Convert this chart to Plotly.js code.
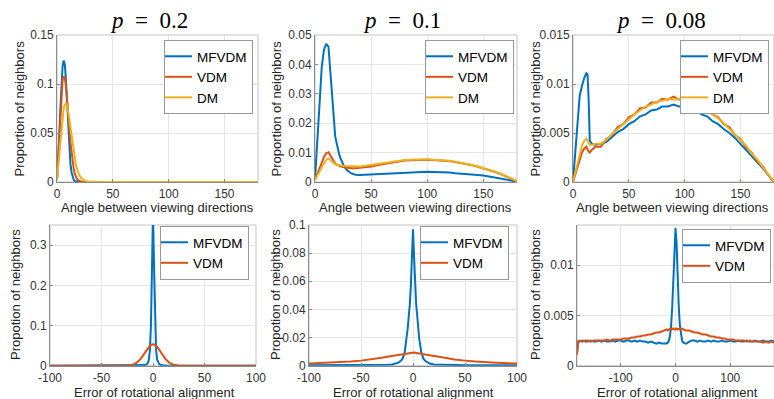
<!DOCTYPE html>
<html>
<head>
<meta charset="utf-8">
<script src="https://cdn.plot.ly/plotly-3.0.1.min.js"></script>
<style>html,body{margin:0;padding:0;background:#fff;}#chart{width:774px;height:399px;}</style>
</head>
<body>
<div id="chart"></div>
<script>
// ---------- DATA ----------
// Panel titles
const panelTitles = ["<i>p</i>\u00a0\u00a0=\u00a0\u00a00.2", "<i>p</i>\u00a0\u00a0=\u00a0\u00a00.1", "<i>p</i>\u00a0\u00a0=\u00a0\u00a00.08"];
const seriesNames = ["MFVDM", "VDM", "DM"];
const xTitleTop = "Angle between viewing directions";
const yTitleTop = "Proportion of neighbors";
const xTitleBottom = "Error of rotational alignment";
const yTitleBottom = "Propotion of neighbors";

// Panel A: p = 0.2, angle between viewing directions
const xA = [0,1,2,3,4,5,6,7,8,9,10,11,12,13,14,15,16,17,18,19,20,22,24,26,28,30,35,40,60,180];
const mfvdmA = [0.002,0.02,0.045,0.075,0.1,0.118,0.124,0.12,0.104,0.08,0.055,0.034,0.019,0.01,0.005,0.002,0.001,0.0004,0.0002,0.0001,0,0,0,0,0,0,0,0,0,0];
const vdmA = [0.002,0.022,0.048,0.072,0.092,0.104,0.108,0.106,0.098,0.086,0.071,0.055,0.041,0.029,0.02,0.013,0.008,0.005,0.003,0.0018,0.001,0.0003,0.0001,0,0,0,0,0,0,0];
const dmA = [0.002,0.012,0.026,0.04,0.054,0.066,0.075,0.079,0.08,0.078,0.073,0.065,0.056,0.047,0.038,0.03,0.023,0.017,0.013,0.0095,0.007,0.0035,0.0017,0.0008,0.0004,0.0002,0,0,0,0];

// Panel B: p = 0.1
const xB = [0,2,4,6,8,10,12,14,16,18,20,22,25,28,32,36,40,45,50,55,60,65,70,75,80,85,90,95,100,105,110,115,120,125,130,135,140,145,150,155,160,165,170,175,180];
const mfvdmB = [0.0008,0.014,0.028,0.039,0.045,0.047,0.046,0.036,0.024,0.0155,0.012,0.0088,0.006,0.0042,0.003,0.0025,0.0024,0.0025,0.0027,0.0028,0.0029,0.003,0.0031,0.0032,0.0033,0.0034,0.0035,0.0035,0.0035,0.0034,0.0034,0.0033,0.0032,0.003,0.0029,0.0027,0.0025,0.0024,0.0022,0.0019,0.0016,0.0012,0.0009,0.0005,0];
const vdmB = [0.0008,0.0025,0.0045,0.0065,0.0085,0.0098,0.0101,0.0088,0.0072,0.0063,0.0058,0.0054,0.0051,0.0049,0.0047,0.0047,0.0048,0.005,0.0053,0.0057,0.006,0.0065,0.0068,0.0071,0.0073,0.0074,0.0075,0.0075,0.0076,0.0075,0.0074,0.0073,0.0071,0.0068,0.0065,0.0061,0.0057,0.0052,0.0047,0.0041,0.0035,0.0028,0.002,0.0011,0.0002];
const dmB = [0.0008,0.002,0.0035,0.005,0.0065,0.0075,0.008,0.0074,0.0066,0.0061,0.0058,0.0056,0.0055,0.0054,0.0053,0.0052,0.0053,0.0055,0.0058,0.0061,0.0064,0.0068,0.0071,0.0073,0.0075,0.0076,0.0077,0.0077,0.0077,0.0076,0.0075,0.0074,0.0072,0.0069,0.0066,0.0062,0.0058,0.0053,0.0048,0.0042,0.0036,0.0029,0.0021,0.0012,0.0002];

// Panel C: p = 0.08
const xC = [0,2,4,6,8,10,12,13,14,15,17,20,25,30,35,40,45,50,55,60,65,70,75,80,85,90,95,100,105,110,115,120,125,130,135,140,145,150,155,160,165,170,175,180];
const mfvdmC = [0,0.0032,0.0062,0.0088,0.0098,0.0106,0.0111,0.011,0.0085,0.0042,0.0039,0.0038,0.0039,0.0041,0.0046,0.0051,0.0054,0.0059,0.0062,0.0067,0.0069,0.0073,0.0074,0.0077,0.0077,0.0079,0.0077,0.0077,0.0074,0.0073,0.0069,0.0067,0.0062,0.0059,0.0054,0.005,0.0045,0.0039,0.0033,0.0027,0.0021,0.0014,0.0007,0];
const vdmC = [0,0.0008,0.0016,0.0024,0.003,0.0034,0.0036,0.0033,0.0031,0.003,0.0033,0.0036,0.0036,0.0044,0.0048,0.0056,0.0059,0.0066,0.0069,0.0075,0.0076,0.0081,0.0081,0.0085,0.0084,0.0087,0.0084,0.0086,0.0081,0.0081,0.0076,0.0075,0.0069,0.0066,0.0059,0.0056,0.0048,0.0044,0.0035,0.003,0.0021,0.0016,0.0007,0];
const dmC = [0,0.001,0.002,0.003,0.0037,0.0042,0.0044,0.0042,0.0039,0.0038,0.0038,0.0039,0.0039,0.0043,0.0049,0.0054,0.006,0.0064,0.0069,0.0073,0.0077,0.0079,0.0082,0.0083,0.0085,0.0084,0.0085,0.0083,0.0082,0.0079,0.0077,0.0073,0.0069,0.0065,0.006,0.0054,0.0049,0.0043,0.0037,0.0029,0.0023,0.0015,0.0008,0];

// Panel D: p = 0.2, error of rotational alignment
const xD = [-100,-60,-40,-30,-25,-20,-16,-12,-10,-8,-6,-5,-4,-3,-2,-1,0,1,2,3,4,5,6,8,10,12,16,20,25,30,40,60,100];
const mfvdmD = [0,0,0,0,0,0,0,0.0002,0.0006,0.0015,0.004,0.007,0.015,0.04,0.1,0.25,0.38,0.25,0.1,0.04,0.015,0.007,0.004,0.0015,0.0006,0.0002,0,0,0,0,0,0,0];
const vdmD = [0,0,0,0.0001,0.0004,0.0023,0.0072,0.017,0.0245,0.032,0.04,0.0437,0.047,0.0495,0.0514,0.0526,0.053,0.0526,0.0514,0.0495,0.047,0.0437,0.04,0.032,0.0245,0.017,0.0072,0.0023,0.0004,0.0001,0,0,0];

// Panel E: p = 0.1
const xE = [-100,-80,-60,-50,-40,-30,-25,-20,-16,-14,-12,-10,-8,-6,-5,-4,-3,-2,-1,0,1,2,3,4,5,6,8,10,12,14,16,20,25,30,40,50,60,80,100];
const mfvdmE = [0.0003,0.0003,0.0004,0.0004,0.0005,0.0006,0.0007,0.0009,0.0015,0.0022,0.0033,0.005,0.0095,0.019,0.027,0.036,0.044,0.058,0.078,0.097,0.078,0.058,0.044,0.036,0.027,0.019,0.0095,0.005,0.0033,0.0022,0.0015,0.0009,0.0007,0.0006,0.0005,0.0004,0.0004,0.0003,0.0003];
const vdmE = [0.0016,0.0021,0.0029,0.0036,0.0044,0.0056,0.0063,0.0069,0.0073,0.0076,0.0079,0.0082,0.0085,0.0088,0.0089,0.009,0.0091,0.0092,0.0093,0.0093,0.0093,0.0092,0.0091,0.009,0.0089,0.0088,0.0085,0.0082,0.0079,0.0076,0.0073,0.0069,0.0063,0.0056,0.0044,0.0036,0.0029,0.0021,0.0016];

// Panel F: p = 0.08
const xF = [-180,-178,-175,-170,-165,-160,-155,-150,-145,-140,-135,-130,-125,-120,-115,-110,-105,-100,-95,-90,-85,-80,-75,-70,-65,-60,-55,-50,-45,-40,-35,-30,-25,
  -20,-18,-16,-14,-12,-10,-8,-6,-4,-2,0,2,4,6,8,10,12,14,16,18,20,
  25,30,35,40,45,50,55,60,65,70,75,80,85,90,95,100,105,110,115,120,125,130,135,140,145,150,155,160,165,170,175,180];
const mfvdmF = [0.0012,0.0024,0.0024,0.0025,0.0024,0.0024,0.0025,0.0024,0.0024,0.0025,0.0024,0.0025,0.0024,0.0024,0.0025,0.0024,0.0025,0.0025,0.0024,0.0025,0.0025,0.0024,0.0025,0.0024,0.0025,0.0024,0.0024,0.0023,0.0024,0.0023,0.0022,0.0023,0.0022,
  0.0022,0.0022,0.0022,0.0023,0.0025,0.003,0.004,0.0058,0.0085,0.0122,0.0137,0.0122,0.0085,0.0058,0.004,0.003,0.0025,0.0023,0.0022,0.0022,0.0022,
  0.0024,0.0025,0.0025,0.0024,0.0025,0.0024,0.0024,0.0025,0.0024,0.0025,0.0024,0.0024,0.0025,0.0024,0.0024,0.0025,0.0024,0.0024,0.0025,0.0024,0.0024,0.0025,0.0024,0.0024,0.0025,0.0024,0.0024,0.0025,0.0024,0.0024,0.0025,0.0024];
const vdmF = [0.0011,0.0024,0.0025,0.0024,0.0025,0.0025,0.0024,0.0025,0.0025,0.0025,0.0025,0.0025,0.0026,0.0025,0.0026,0.0026,0.0026,0.0026,0.0027,0.0027,0.0027,0.0028,0.0028,0.0029,0.0029,0.003,0.003,0.0031,0.0031,0.0032,0.0033,0.0033,0.0034,
  0.0035,0.0035,0.0036,0.0035,0.0036,0.0037,0.0036,0.0037,0.0037,0.0036,0.0037,0.0037,0.0036,0.0037,0.0037,0.0036,0.0037,0.0036,0.0036,0.0035,0.0035,
  0.0035,0.0034,0.0033,0.0033,0.0032,0.0031,0.0031,0.003,0.0029,0.0029,0.0028,0.0028,0.0027,0.0027,0.0026,0.0026,0.0026,0.0025,0.0025,0.0025,0.0025,0.0024,0.0025,0.0024,0.0024,0.0024,0.0024,0.0023,0.0024,0.0023,0.0024,0.0023];

// Tick labels
const xTicksTop = [0,50,100,150];
const xTickTextTop = ["0","50","100","150"];
const yTicksA = [0,0.05,0.1,0.15], yTickTextA = ["0","0.05","0.1","0.15"];
const yTicksB = [0,0.01,0.02,0.03,0.04,0.05], yTickTextB = ["0","0.01","0.02","0.03","0.04","0.05"];
const yTicksC = [0,0.005,0.01,0.015], yTickTextC = ["0","0.005","0.01","0.015"];
const xTicksDE = [-100,-50,0,50,100], xTickTextDE = ["-100","-50","0","50","100"];
const yTicksD = [0,0.1,0.2,0.3], yTickTextD = ["0","0.1","0.2","0.3"];
const yTicksE = [0,0.02,0.04,0.06,0.08,0.1], yTickTextE = ["0","0.02","0.04","0.06","0.08","0.1"];
const xTicksF = [-100,0,100], xTickTextF = ["-100","0","100"];
const yTicksF = [0,0.005,0.01], yTickTextF = ["0","0.005","0.01"];

// ---------- STYLE ----------
const W = 774, H = 399;
const FONT = "Liberation Sans, Arial, Helvetica, sans-serif";
const C = {MFVDM: "#0072BD", VDM: "#D95319", DM: "#EDB120"};
const px = v => v / W;
const py = v => (H - v) / H;

function tr(x, y, name, ax, lg) {
  return {type: "scatter", mode: "lines", x: x, y: y, name: name,
    xaxis: "x" + ax, yaxis: "y" + ax, legend: lg,
    line: {color: C[name], width: 2}, hoverinfo: "skip"};
}
const data = [
  tr(xA, mfvdmA, "MFVDM", "", "legend"), tr(xA, vdmA, "VDM", "", "legend"), tr(xA, dmA, "DM", "", "legend"),
  tr(xB, mfvdmB, "MFVDM", "2", "legend2"), tr(xB, vdmB, "VDM", "2", "legend2"), tr(xB, dmB, "DM", "2", "legend2"),
  tr(xC, mfvdmC, "MFVDM", "3", "legend3"), tr(xC, vdmC, "VDM", "3", "legend3"), tr(xC, dmC, "DM", "3", "legend3"),
  tr(xD, mfvdmD, "MFVDM", "4", "legend4"), tr(xD, vdmD, "VDM", "4", "legend4"),
  tr(xE, mfvdmE, "MFVDM", "5", "legend5"), tr(xE, vdmE, "VDM", "5", "legend5"),
  tr(xF, mfvdmF, "MFVDM", "6", "legend6"), tr(xF, vdmF, "VDM", "6", "legend6")
];

function axis(domain, range, tv, tt, anchor, isX) {
  return {domain: domain, range: range, tickvals: tv, ticktext: tt, anchor: anchor,
    showgrid: true, gridcolor: "#e6e6e6", gridwidth: 1, zeroline: false,
    showline: true, linecolor: "#8c8c8c", linewidth: 1,
    ticks: "inside", ticklen: 3, tickcolor: "#8c8c8c",
    ticklabelstandoff: isX ? 1 : 0,
    tickfont: {family: FONT, size: 12, color: "#333"}, fixedrange: true};
}
const topY = [py(182), py(35)], botY = [py(365.7), py(225)];
const dA = [px(57), px(258)], dB = [px(315), px(517)], dC = [px(573), 1];
const dD = [px(50), px(256)], dE = [px(309), px(517)], dF = [px(577), 1];

function legend(xRight, yTop) {
  return {x: px(xRight), y: py(yTop), xref: "paper", yref: "paper", xanchor: "right", yanchor: "top",
    bgcolor: "#fff", bordercolor: "#9a9a9a", borderwidth: 1, indentation: -8,
    font: {family: FONT, size: 13.5, color: "#000"}, tracegroupgap: 0};
}

const annotations = [];
function ann(text, x, y, opts) {
  annotations.push(Object.assign({text: text, x: x, y: y, xref: "paper", yref: "paper",
    xanchor: "center", yanchor: "middle", showarrow: false,
    font: {family: FONT, size: 13, color: "#262626"}}, opts || {}));
}
const titleFont = {family: "Liberation Serif, DejaVu Serif, serif", size: 23, color: "#000"};
ann(panelTitles[0], px(149), py(20), {font: titleFont});
ann(panelTitles[1], px(402), py(20), {font: titleFont});
ann(panelTitles[2], px(661), py(20), {font: titleFont});
ann(xTitleTop, px(157.5), py(207)); ann(xTitleTop, px(415), py(207)); ann(xTitleTop, px(672), py(207));
ann(yTitleTop, px(19), py(108.5), {textangle: -90}); ann(yTitleTop, px(276), py(108.5), {textangle: -90}); ann(yTitleTop, px(535), py(108.5), {textangle: -90});
ann(xTitleBottom, px(154), py(392)); ann(xTitleBottom, px(414), py(392)); ann(xTitleBottom, px(677), py(392));
ann(yTitleBottom, px(15), py(295), {textangle: -90}); ann(yTitleBottom, px(275), py(295), {textangle: -90}); ann(yTitleBottom, px(535), py(295), {textangle: -90});

const shapes = ["", "2", "3", "4", "5", "6"].map(s => ({type: "rect", xref: "x" + s + " domain", yref: "y" + s + " domain",
  x0: 0, x1: 1, y0: 0, y1: 1, line: {color: "#c4c4c4", width: 1}, layer: "below"}));

const layout = {
  width: W, height: H, margin: {l: 0, r: 0, t: 0, b: 0},
  paper_bgcolor: "#fff", plot_bgcolor: "#fff", showlegend: true,
  font: {family: FONT, color: "#262626"},
  xaxis: axis(dA, [0, 180], xTicksTop, xTickTextTop, "y", true),
  yaxis: axis(topY, [0, 0.15], yTicksA, yTickTextA, "x"),
  xaxis2: axis(dB, [0, 180], xTicksTop, xTickTextTop, "y2", true),
  yaxis2: axis(topY, [0, 0.05], yTicksB, yTickTextB, "x2"),
  xaxis3: axis(dC, [0, 180], xTicksTop, xTickTextTop, "y3", true),
  yaxis3: axis(topY, [0, 0.015], yTicksC, yTickTextC, "x3"),
  xaxis4: axis(dD, [-100, 100], xTicksDE, xTickTextDE, "y4", true),
  yaxis4: axis(botY, [0, 0.35], yTicksD, yTickTextD, "x4"),
  xaxis5: axis(dE, [-100, 100], xTicksDE, xTickTextDE, "y5", true),
  yaxis5: axis(botY, [0, 0.1], yTicksE, yTickTextE, "x5"),
  xaxis6: axis(dF, [-180, 180], xTicksF, xTickTextF, "y6", true),
  yaxis6: axis(botY, [0, 0.014], yTicksF, yTickTextF, "x6"),
  legend: legend(253, 40),
  legend2: legend(514, 40),
  legend3: legend(769, 40),
  legend4: legend(249, 226),
  legend5: legend(509, 226),
  legend6: legend(771, 229),
  annotations: annotations,
  shapes: shapes
};
Plotly.newPlot("chart", data, layout, {staticPlot: true, displayModeBar: false});
</script>
</body>
</html>
